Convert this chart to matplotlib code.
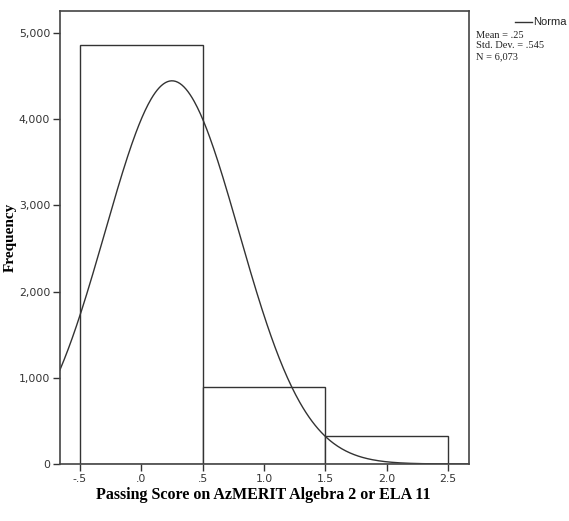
import numpy as np
import matplotlib
matplotlib.use("Agg")
import matplotlib.pyplot as plt

# histogram bins (edges) and counts
bin_edges = [-0.5, 0.5, 1.5, 2.5]
counts = [4857, 890, 326]
# normal curve parameters shown in the legend box
mean = 0.25
std_dev = 0.545
n_total = 6073

x_ticks = [-0.5, 0.0, 0.5, 1.0, 1.5, 2.0, 2.5]
x_tick_labels = ["-.5", ".0", ".5", "1.0", "1.5", "2.0", "2.5"]
y_ticks = [0, 1000, 2000, 3000, 4000, 5000]
y_tick_labels = ["0", "1,000", "2,000", "3,000", "4,000", "5,000"]

LINE = "#333333"

fig = plt.figure(figsize=(5.69, 5.21), dpi=100)
ax = fig.add_axes([0.1054, 0.1094, 0.824 - 0.1054, 0.979 - 0.1094])

widths = np.diff(bin_edges)
ax.bar(
    bin_edges[:-1],
    counts,
    width=widths,
    align="edge",
    facecolor="white",
    edgecolor=LINE,
    linewidth=1.0,
)

xlim = (-0.663, 2.67)
xs = np.linspace(xlim[0], xlim[1], 400)
bin_width = widths[0]
ys = n_total * bin_width / (std_dev * np.sqrt(2 * np.pi)) * np.exp(-0.5 * ((xs - mean) / std_dev) ** 2)
ax.plot(xs, ys, color=LINE, linewidth=1.0)

ax.set_xlim(xlim)
ax.set_ylim(0, 5256)
ax.set_xticks(x_ticks)
ax.set_xticklabels(x_tick_labels)
ax.set_yticks(y_ticks)
ax.set_yticklabels(y_tick_labels)
ax.tick_params(direction="out", length=5, width=1.0, color=LINE,
               labelsize=7.8, labelcolor="#333333", pad=2)
for lab in ax.get_xticklabels() + ax.get_yticklabels():
    lab.set_family("DejaVu Sans")
for sp in ax.spines.values():
    sp.set_color("#444444")
    sp.set_linewidth(1.2)

ax.set_xlabel("Passing Score on AzMERIT Algebra 2 or ELA 11",
              family="Liberation Serif", fontweight="bold", fontsize=11.5)
ax.xaxis.set_label_coords((263 - 60) / 409, -(487 - 464) / 453)
ax.set_ylabel("Frequency", family="Liberation Serif", fontweight="bold",
              fontsize=11)
ax.yaxis.set_label_coords(-(60 - 17) / 409, (464 - 237) / 453)

# legend-like annotation on the right
fig.lines.append(plt.Line2D([515 / 569, 532 / 569], [1 - 22 / 521, 1 - 22 / 521],
                            transform=fig.transFigure, color=LINE, linewidth=1.0))
fig.text(533 / 569, 1 - 22 / 521, "Norma", family="Liberation Sans", fontsize=8,
         va="center", ha="left", color="#222222")
info = [f"Mean = {mean:.2f}".replace("0.", "."),
        f"Std. Dev. = {std_dev:.3f}".replace("0.", "."),
        f"N = {n_total:,}"]
for i, line in enumerate(info):
    fig.text(476 / 569, 1 - (35 + 11 * i) / 521, line, family="Liberation Serif",
             fontsize=7.5, va="center", ha="left", color="#222222")

fig.savefig("out.png", dpi=100)
